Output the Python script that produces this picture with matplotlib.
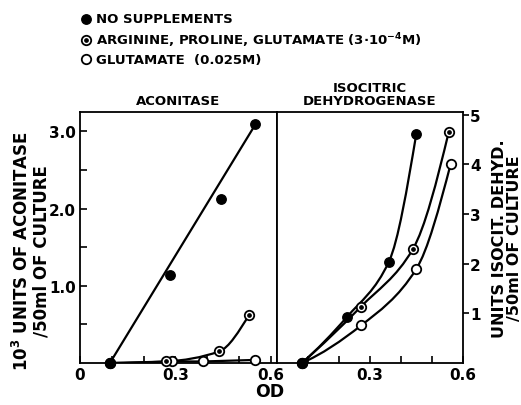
import numpy as np
import matplotlib
matplotlib.use("Agg")
import matplotlib.pyplot as plt
from matplotlib.path import Path
from matplotlib.patches import PathPatch

plt.rcParams["font.family"] = ["DejaVu Sans"]
plt.rcParams["font.weight"] = "bold"

# Aconitase panel (OD vs 10^3 units / 50 ml)
aco_none_od = [0.094, 0.283, 0.443, 0.552]
aco_none_val = [0.0, 1.14, 2.13, 3.09]
aco_arg_od = [0.094, 0.270, 0.438, 0.532]
aco_arg_val = [0.0, 0.02, 0.15, 0.62]
aco_glu_od = [0.094, 0.288, 0.388, 0.550]
aco_glu_val = [0.0, 0.02, 0.02, 0.04]

# Isocitric dehydrogenase panel (OD vs units / 50 ml)
icd_none_od = [0.080, 0.226, 0.361, 0.449]
icd_none_val = [0.0, 0.93, 2.04, 4.60]
icd_arg_od = [0.080, 0.270, 0.438, 0.554]
icd_arg_val = [0.0, 1.13, 2.29, 4.65]
icd_glu_od = [0.080, 0.272, 0.449, 0.560]
icd_glu_val = [0.0, 0.76, 1.89, 4.00]

legend_labels = [
    "NO SUPPLEMENTS",
    "ARGININE, PROLINE, GLUTAMATE (3\u00b710$^{-4}$M)",
    "GLUTAMATE  (0.025M)",
]

LW = 1.6
MS = 6.8


def smooth_curve(ax, xs, ys):
    """Monotoniska Hermite kreive (PCHIP) kaip Bezier segmentai."""
    x = np.asarray(xs, float)
    y = np.asarray(ys, float)
    h = np.diff(x)
    d = np.diff(y) / h
    n = len(x)
    m = np.zeros(n)
    for i in range(1, n - 1):
        if d[i - 1] * d[i] <= 0:
            m[i] = 0.0
        else:
            w1 = 2 * h[i] + h[i - 1]
            w2 = h[i] + 2 * h[i - 1]
            m[i] = (w1 + w2) / (w1 / d[i - 1] + w2 / d[i])
    m[0] = ((2 * h[0] + h[1]) * d[0] - h[0] * d[1]) / (h[0] + h[1])
    if m[0] * d[0] <= 0:
        m[0] = 0.0
    m[-1] = ((2 * h[-1] + h[-2]) * d[-1] - h[-1] * d[-2]) / (h[-1] + h[-2])
    if m[-1] * d[-1] <= 0:
        m[-1] = 0.0
    verts = [(x[0], y[0])]
    codes = [Path.MOVETO]
    for i in range(n - 1):
        c1 = (x[i] + h[i] / 3, y[i] + m[i] * h[i] / 3)
        c2 = (x[i + 1] - h[i] / 3, y[i + 1] - m[i + 1] * h[i] / 3)
        verts += [c1, c2, (x[i + 1], y[i + 1])]
        codes += [Path.CURVE4] * 3
    ax.add_patch(PathPatch(Path(verts, codes), fill=False, lw=LW,
                           edgecolor="black", zorder=2))


def draw_markers(ax, xs, ys, kind):
    if kind == "filled":
        ax.plot(xs, ys, "o", ms=MS, mfc="black", mec="black", zorder=4,
                clip_on=False)
    else:
        ax.plot(xs, ys, "o", ms=MS, mfc="white", mec="black", mew=1.3,
                zorder=4, clip_on=False)
        if kind == "dotted":
            ax.plot(xs, ys, "o", ms=2.4, mfc="black", mec="black", zorder=5,
                    clip_on=False)


fig = plt.figure(figsize=(5.21, 4.06), dpi=100)
ax1 = fig.add_axes([0.1536, 0.1034, 0.378, 0.618])
ax2 = fig.add_axes([0.5317, 0.1034, 0.357, 0.618])

# left panel
ax1.plot([aco_none_od[0], aco_none_od[-1]], [aco_none_val[0], aco_none_val[-1]],
         color="black", lw=LW, zorder=2)
smooth_curve(ax1, aco_arg_od, aco_arg_val)
ax1.plot(aco_glu_od, aco_glu_val, color="black", lw=LW, zorder=2)
draw_markers(ax1, aco_glu_od, aco_glu_val, "open")
draw_markers(ax1, aco_arg_od, aco_arg_val, "dotted")
draw_markers(ax1, aco_none_od, aco_none_val, "filled")

ax1.set_xlim(0, 0.62)
ax1.set_ylim(0, 3.25)
ax1.set_xticks([0, 0.1, 0.2, 0.3, 0.4, 0.5, 0.6])
ax1.set_xticklabels(["0", "", "", "0.3", "", "", "0.6"])
ax1.set_yticks([1, 2, 3])
ax1.set_yticklabels(["1.0", "2.0", "3.0"])
ax1.set_yticks([0.5, 1.5, 2.5], minor=True)
ax1.tick_params(direction="in", length=5, width=1.2, labelsize=11, pad=3)
ax1.tick_params(which="minor", direction="in", length=5, width=1.2)
ax1.set_title("ACONITASE", fontsize=9.5, fontweight="bold", pad=6)
ax1.set_ylabel("10$^3$ UNITS OF ACONITASE\n/50ml OF CULTURE", fontsize=12,
               fontweight="bold", linespacing=1.0)
ax1.yaxis.set_label_coords(-0.15, 0.45)

# right panel
for xs, ys in [(icd_none_od, icd_none_val), (icd_arg_od, icd_arg_val),
               (icd_glu_od, icd_glu_val)]:
    smooth_curve(ax2, xs, ys)
draw_markers(ax2, icd_glu_od, icd_glu_val, "open")
draw_markers(ax2, icd_arg_od, icd_arg_val, "dotted")
draw_markers(ax2, icd_none_od, icd_none_val, "filled")

ax2.set_xlim(0, 0.6)
ax2.set_ylim(0, 5.05)
ax2.set_xticks([0.1, 0.2, 0.3, 0.4, 0.5, 0.6])
ax2.set_xticklabels(["", "", "0.3", "", "", "0.6"])
ax2.tick_params(axis="x", direction="in", length=5, width=1.2, labelsize=11, pad=3)
ax2.yaxis.tick_right()
ax2.yaxis.set_label_position("right")
ax2.set_yticks([1, 2, 3, 4, 5])
ax2.set_yticklabels(["1", "2", "3", "4", "5"])
ax2.tick_params(axis="y", direction="out", length=4, width=1.2, labelsize=11, pad=1)
ax2.set_title("ISOCITRIC\nDEHYDROGENASE", fontsize=9.5, fontweight="bold",
              pad=6, linespacing=1.0)
ax2.set_ylabel("UNITS ISOCIT. DEHYD.\n/50ml OF CULTURE", fontsize=11.5,
               fontweight="bold", labelpad=8, linespacing=1.0)

for ax in (ax1, ax2):
    for sp in ax.spines.values():
        sp.set_linewidth(1.3)

fig.text(0.518, 0.022, "OD", fontsize=12.5, fontweight="bold", ha="center")

# legend drawn as markers + text at the top
leg_y = [0.951, 0.900, 0.852]
kinds = ["filled", "dotted", "open"]
lax = fig.add_axes([0, 0, 1, 1], facecolor="none")
lax.set_xlim(0, 1)
lax.set_ylim(0, 1)
lax.axis("off")
for y, kind, label in zip(leg_y, kinds, legend_labels):
    draw_markers(lax, [0.166], [y], kind)
    lax.text(0.185, y, label, fontsize=9.5, fontweight="bold", va="center")

fig.savefig("out.png", dpi=100)
